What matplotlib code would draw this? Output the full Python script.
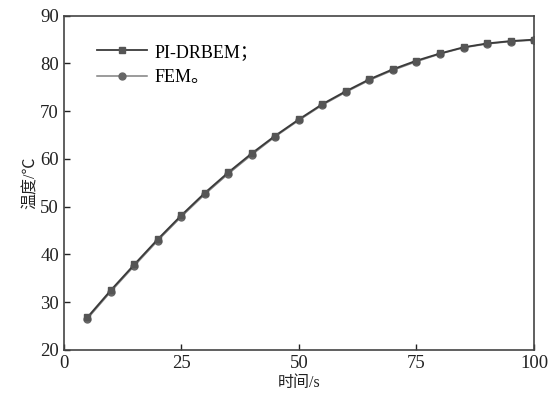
import matplotlib
matplotlib.use('Agg')
import matplotlib.pyplot as plt

plt.rcParams['font.family'] = ['Liberation Serif', 'Noto Sans CJK SC']
plt.rcParams['axes.unicode_minus'] = False

# 时间/s
t = [5, 10, 15, 20, 25, 30, 35, 40, 45, 50, 55, 60, 65, 70, 75, 80, 85, 90, 95, 100]
# 温度/℃
pi_drbem = [26.8, 32.5, 37.9, 43.2, 48.2, 52.9, 57.2, 61.2, 64.9, 68.3, 71.5, 74.2,
            76.7, 78.8, 80.6, 82.1, 83.4, 84.2, 84.7, 85.0]
fem = [26.5, 32.2, 37.6, 42.9, 47.9, 52.6, 56.9, 60.9, 64.7, 68.1, 71.3, 74.0,
       76.5, 78.6, 80.4, 82.0, 83.3, 84.1, 84.6, 84.9]

fig = plt.figure(figsize=(5.5, 3.94), dpi=100)
ax = fig.add_axes([0.116, 0.112, 0.855, 0.848])

ax.plot(t, pi_drbem, color='#3a3a3a', lw=1.3, marker='s', ms=5,
        mfc='#555555', mec='#555555', label='PI-DRBEM；', zorder=3)
ax.plot(t, fem, color='#808080', lw=1.1, marker='o', ms=5,
        mfc='#666666', mec='#666666', label='FEM。', zorder=2)

ax.set_xlim(0, 100)
ax.set_ylim(20, 90)
ax.set_xticks([0, 25, 50, 75, 100])
ax.set_yticks(range(20, 91, 10))
ax.tick_params(direction='in', length=4, width=1, labelsize=13.5, colors='#222222')
ax.tick_params(top=False, right=False)
for s in ax.spines.values():
    s.set_linewidth(1.2)
    s.set_color('#444444')

ax.set_xlabel('时间/s', fontsize=11.5, labelpad=2, color='#222222')
ax.set_ylabel('温度/℃', fontsize=11.5, labelpad=1, color='#222222')

ax.legend(loc='upper left', bbox_to_anchor=(0.035, 0.965), frameon=False,
          fontsize=13, handlelength=2.8, labelspacing=0.45, handletextpad=0.4)

fig.savefig('out.png', dpi=100)
